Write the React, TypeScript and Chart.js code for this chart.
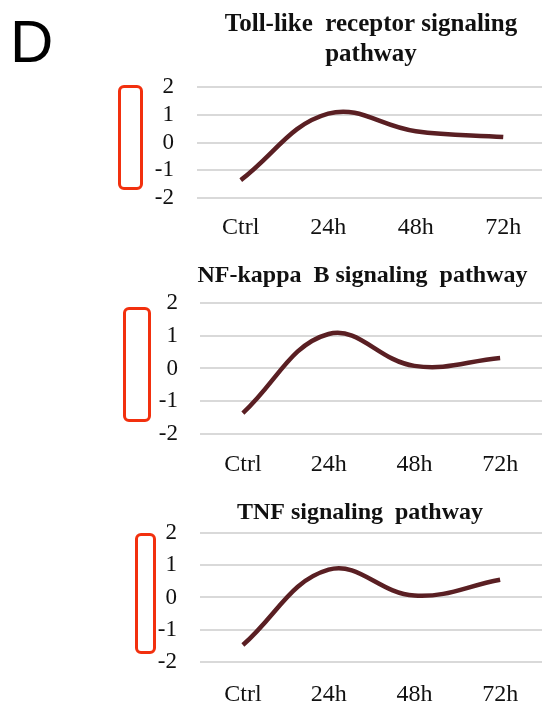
import React, { useEffect, useRef } from "react";
import { Chart, registerables } from "chart.js";

Chart.register(...registerables);

const categories = ["Ctrl", "24h", "48h", "72h"];
const yTickValues = [-2, -1, 0, 1, 2];
const tollLikeValues = [-1.35, 1.04, 0.41, 0.2];
const nfKappaBValues = [-1.36, 1.05, 0.08, 0.32];
const tnfValues = [-1.47, 0.86, 0.06, 0.55];
const tollLikeTitle = ["Toll-like  receptor signaling", "pathway"];
const nfKappaBTitle = ["NF-kappa  B signaling  pathway"];
const tnfTitle = ["TNF signaling  pathway"];
const panelLetter = "D";

type PanelProps = {
  title: string[];
  values: number[];
  left: number;
  top: number;
  width: number;
  height: number;
  padLeft: number;
  yAxisWidth: number;
  yTickPad: number;
  xTickPad: number;
  titleSize: number;
  titlePadTop: number;
  titlePadBottom: number;
};

function Panel(p: PanelProps) {
  const ref = useRef<HTMLCanvasElement | null>(null);
  useEffect(() => {
    if (!ref.current) return;
    const chart = new Chart(ref.current, {
      type: "line",
      data: {
        labels: categories,
        datasets: [
          {
            data: p.values,
            borderColor: "#5a1f23",
            borderWidth: 4.5,
            tension: 0.4,
            pointRadius: 0,
            fill: false,
            borderCapStyle: "butt",
          },
        ],
      },
      options: {
        animation: false,
        responsive: false,
        devicePixelRatio: 1,
        layout: { padding: { left: p.padLeft, right: 0, top: 0, bottom: 0 } },
        plugins: {
          legend: { display: false },
          tooltip: { enabled: false },
          title: {
            display: true,
            text: p.title,
            color: "#111",
            font: { family: "Liberation Serif", size: p.titleSize, weight: "bold", lineHeight: 1.2 },
            padding: { top: p.titlePadTop, bottom: p.titlePadBottom },
          },
        },
        scales: {
          x: {
            type: "category",
            offset: true,
            grid: { display: false, drawTicks: false },
            border: { display: false },
            ticks: {
              color: "#111",
              padding: p.xTickPad,
              font: { family: "Liberation Serif", size: 24, lineHeight: 1.2 },
              maxRotation: 0,
              autoSkip: false,
            },
          },
          y: {
            min: -2,
            max: 2,
            afterBuildTicks: (scale: any) => {
              scale.ticks = yTickValues.map((v) => ({ value: v }));
            },
            afterFit: (scale: any) => {
              scale.width = p.yAxisWidth;
              scale._computeLabelArea = () => undefined;
            },
            grid: { color: "#d9d9d9", lineWidth: 2, drawTicks: false },
            border: { display: false },
            ticks: {
              color: "#111",
              padding: p.yTickPad,
              autoSkip: false,
              font: { family: "Liberation Serif", size: 23, lineHeight: 1.2 },
            },
          },
        },
      },
    } as any);
    return () => chart.destroy();
  }, []);
  return (
    <canvas
      ref={ref}
      width={p.width}
      height={p.height}
      style={{ position: "absolute", left: p.left, top: p.top, width: p.width, height: p.height }}
    />
  );
}

function RedBox(props: { left: number; top: number; width: number; height: number }) {
  return (
    <div
      style={{
        position: "absolute",
        left: props.left,
        top: props.top,
        width: props.width,
        height: props.height,
        border: "3px solid #f2300e",
        borderRadius: 6,
        boxSizing: "border-box",
      }}
    />
  );
}

export default function App() {
  return (
    <div
      style={{
        position: "absolute",
        left: 0,
        top: 0,
        width: 542,
        height: 704,
        overflow: "hidden",
        background: "#fff",
      }}
    >
      <Panel
        title={tollLikeTitle}
        values={tollLikeValues}
        left={100}
        top={0}
        width={447}
        height={257}
        padLeft={95}
        yAxisWidth={2}
        yTickPad={23}
        xTickPad={15}
        titleSize={25}
        titlePadTop={10}
        titlePadBottom={17}
      />
      <Panel
        title={nfKappaBTitle}
        values={nfKappaBValues}
        left={100}
        top={245}
        width={443}
        height={250}
        padLeft={82}
        yAxisWidth={18}
        yTickPad={22}
        xTickPad={16}
        titleSize={24}
        titlePadTop={16}
        titlePadBottom={13}
      />
      <Panel
        title={tnfTitle}
        values={tnfValues}
        left={100}
        top={482}
        width={443}
        height={245}
        padLeft={77}
        yAxisWidth={23}
        yTickPad={23}
        xTickPad={18}
        titleSize={24}
        titlePadTop={16}
        titlePadBottom={6}
      />
      <RedBox left={118} top={85} width={25} height={105} />
      <RedBox left={123} top={307} width={28} height={115} />
      <RedBox left={135} top={533} width={21} height={121} />
      <div
        style={{
          position: "absolute",
          left: 10,
          top: 12,
          fontFamily: "Liberation Sans",
          fontSize: 60,
          lineHeight: "60px",
          color: "#000",
        }}
      >
        {panelLetter}
      </div>
    </div>
  );
}
